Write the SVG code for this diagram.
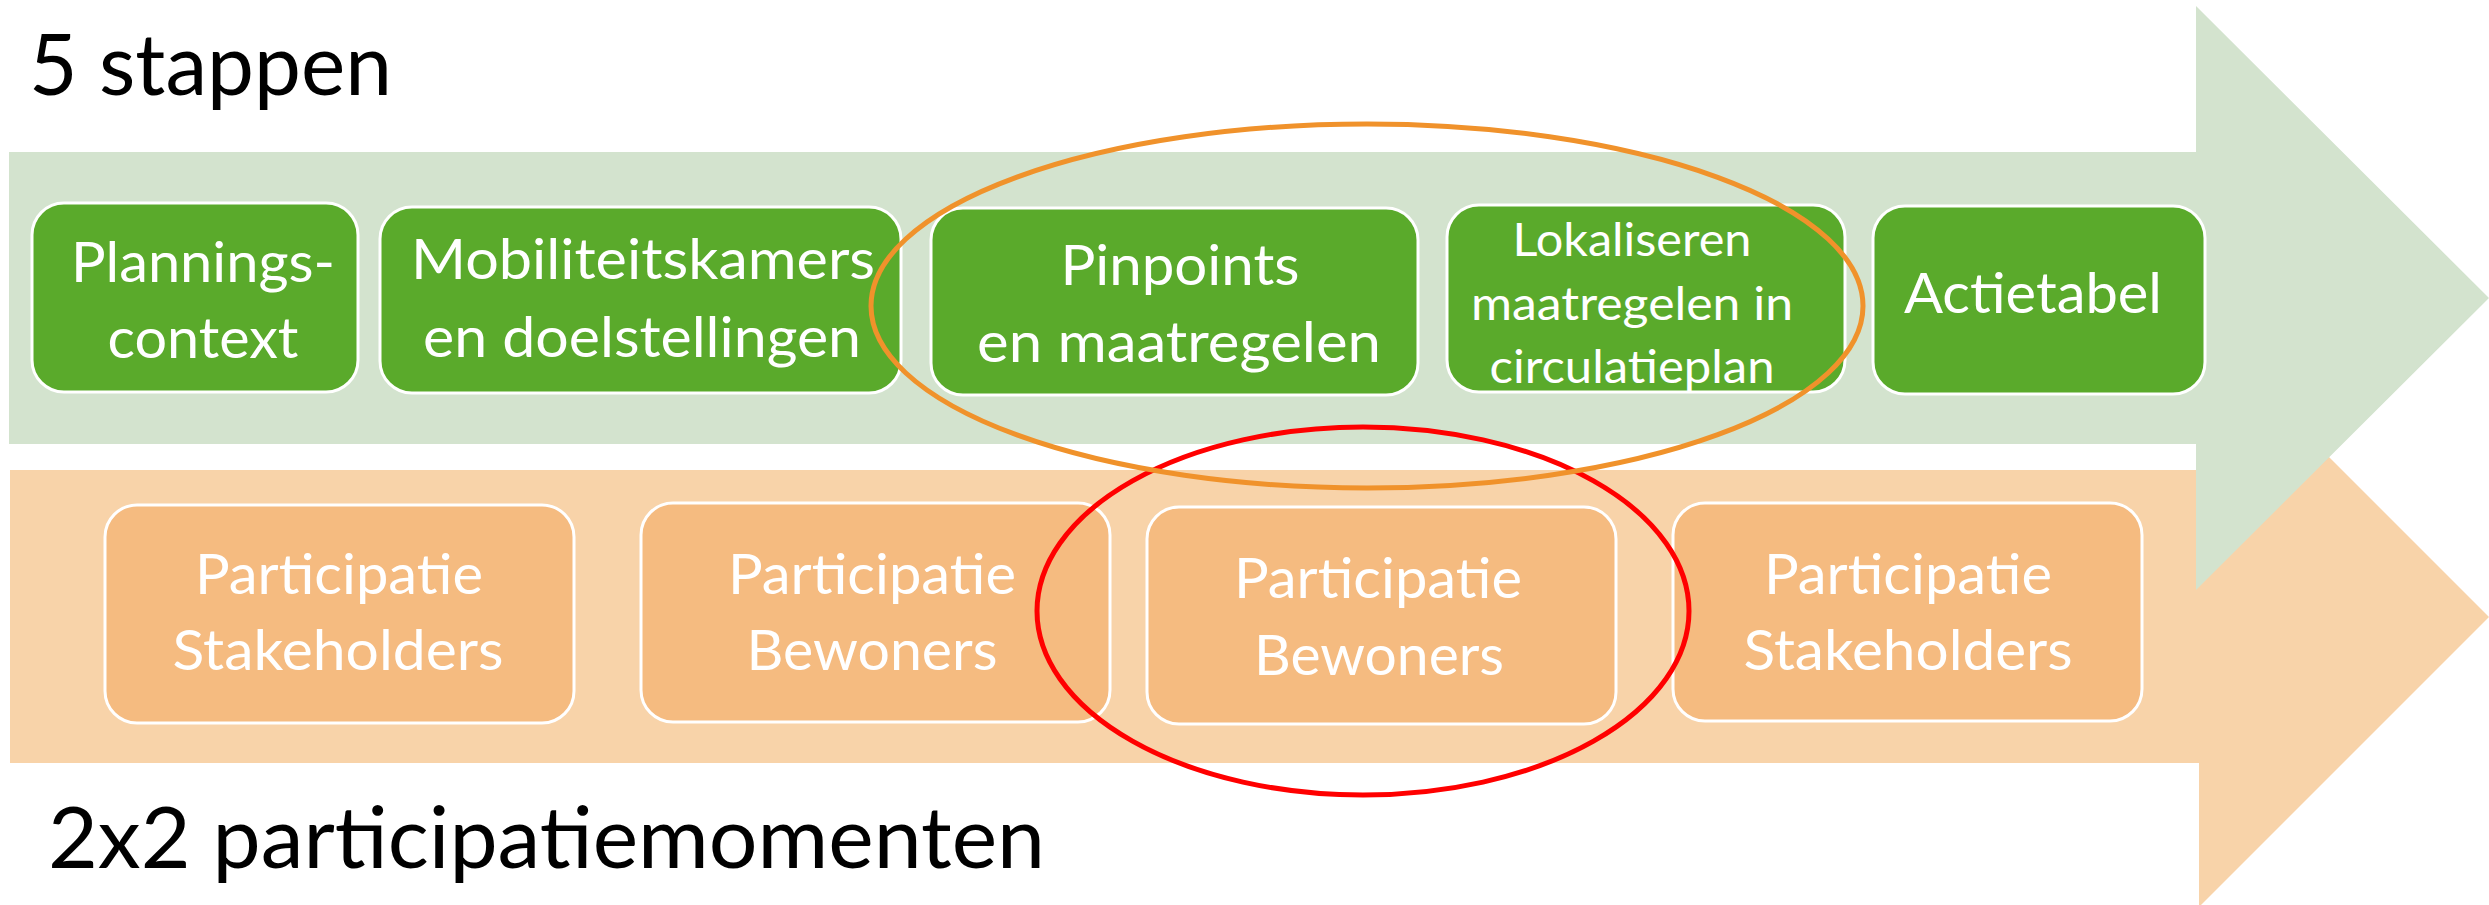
<svg xmlns="http://www.w3.org/2000/svg" width="2489" height="905" viewBox="0 0 2489 905">
<style>
.title{font-family:Lato,"Open Sans","Liberation Sans",sans-serif;fill:#000;font-size:86px}
.gbox{fill:#5AAA2B;stroke:#FFFFFF;stroke-width:3}
.obox{fill:#F5BB80;stroke:#FFFFFF;stroke-width:3}
.lbl{font-family:Lato,"Open Sans","Liberation Sans",sans-serif;fill:#FFFFFF;font-size:57px;text-anchor:middle}
.sm{font-size:46px}
.hl{fill:none;stroke-width:5}
</style>
<rect width="2489" height="905" fill="#FFFFFF"/>
<g id="arrows">
<polygon id="arrow-participatie" points="10,470 2199,470 2199,327 2489,617 2199,907 2199,763 10,763" fill="#F8D3A9"/>
<polygon id="arrow-stappen" points="9,152 2196,152 2196,6 2489,298 2196,590 2196,444 9,444" fill="#D3E3CE"/>
</g>
<text class="title" x="29" y="95" textLength="363" lengthAdjust="spacingAndGlyphs">5 stappen</text>
<text class="title" x="48" y="868" textLength="997" lengthAdjust="spacingAndGlyphs">2x2 participatiemomenten</text>
<g id="step1">
<rect class="gbox" x="32" y="203" width="326" height="189" rx="32"/>
<text class="lbl" x="203" y="282" textLength="264" lengthAdjust="spacingAndGlyphs">Plannings-</text>
<text class="lbl" x="203" y="358" textLength="191" lengthAdjust="spacingAndGlyphs">context</text>
</g>
<g id="step2">
<rect class="gbox" x="380" y="207" width="521" height="186" rx="32"/>
<text class="lbl" x="643" y="279" textLength="464" lengthAdjust="spacingAndGlyphs">Mobiliteitskamers</text>
<text class="lbl" x="642" y="357" textLength="438" lengthAdjust="spacingAndGlyphs">en doelstellingen</text>
</g>
<g id="step3">
<rect class="gbox" x="931" y="208" width="487" height="187" rx="32"/>
<text class="lbl" x="1180" y="285" textLength="239" lengthAdjust="spacingAndGlyphs">Pinpoints</text>
<text class="lbl" x="1179" y="362" textLength="404" lengthAdjust="spacingAndGlyphs">en maatregelen</text>
</g>
<g id="step4">
<rect class="gbox" x="1447" y="205" width="398" height="187" rx="32"/>
<text class="lbl sm" x="1632" y="256" textLength="239" lengthAdjust="spacingAndGlyphs">Lokaliseren</text>
<text class="lbl sm" x="1632" y="320" textLength="322" lengthAdjust="spacingAndGlyphs">maatregelen in</text>
<text class="lbl sm" x="1632" y="383" textLength="285" lengthAdjust="spacingAndGlyphs">circulatieplan</text>
</g>
<g id="step5">
<rect class="gbox" x="1873" y="206" width="332" height="188" rx="32"/>
<text class="lbl" x="2033" y="313" textLength="258" lengthAdjust="spacingAndGlyphs">Actietabel</text>
</g>
<g id="part1">
<rect class="obox" x="105" y="505" width="469" height="218" rx="32"/>
<text class="lbl" x="339" y="594" textLength="288" lengthAdjust="spacingAndGlyphs">Participatie</text>
<text class="lbl" x="338" y="670" textLength="331" lengthAdjust="spacingAndGlyphs">Stakeholders</text>
</g>
<g id="part2">
<rect class="obox" x="641" y="503" width="469" height="219" rx="32"/>
<text class="lbl" x="872" y="594" textLength="288" lengthAdjust="spacingAndGlyphs">Participatie</text>
<text class="lbl" x="872" y="670" textLength="251" lengthAdjust="spacingAndGlyphs">Bewoners</text>
</g>
<g id="part3">
<rect class="obox" x="1147" y="507" width="469" height="217" rx="32"/>
<text class="lbl" x="1378" y="598" textLength="288" lengthAdjust="spacingAndGlyphs">Participatie</text>
<text class="lbl" x="1379" y="675" textLength="250" lengthAdjust="spacingAndGlyphs">Bewoners</text>
</g>
<g id="part4">
<rect class="obox" x="1673" y="503" width="469" height="218" rx="32"/>
<text class="lbl" x="1908" y="594" textLength="288" lengthAdjust="spacingAndGlyphs">Participatie</text>
<text class="lbl" x="1908" y="670" textLength="329" lengthAdjust="spacingAndGlyphs">Stakeholders</text>
</g>
<g id="highlights">
<ellipse id="hl-bewoners" class="hl" cx="1363" cy="611" rx="326" ry="184" stroke="#FF0000" stroke-width="6"/>
<ellipse id="hl-maatregelen" class="hl" cx="1367" cy="306" rx="496" ry="182" stroke="#F0922B"/>
</g>
</svg>
